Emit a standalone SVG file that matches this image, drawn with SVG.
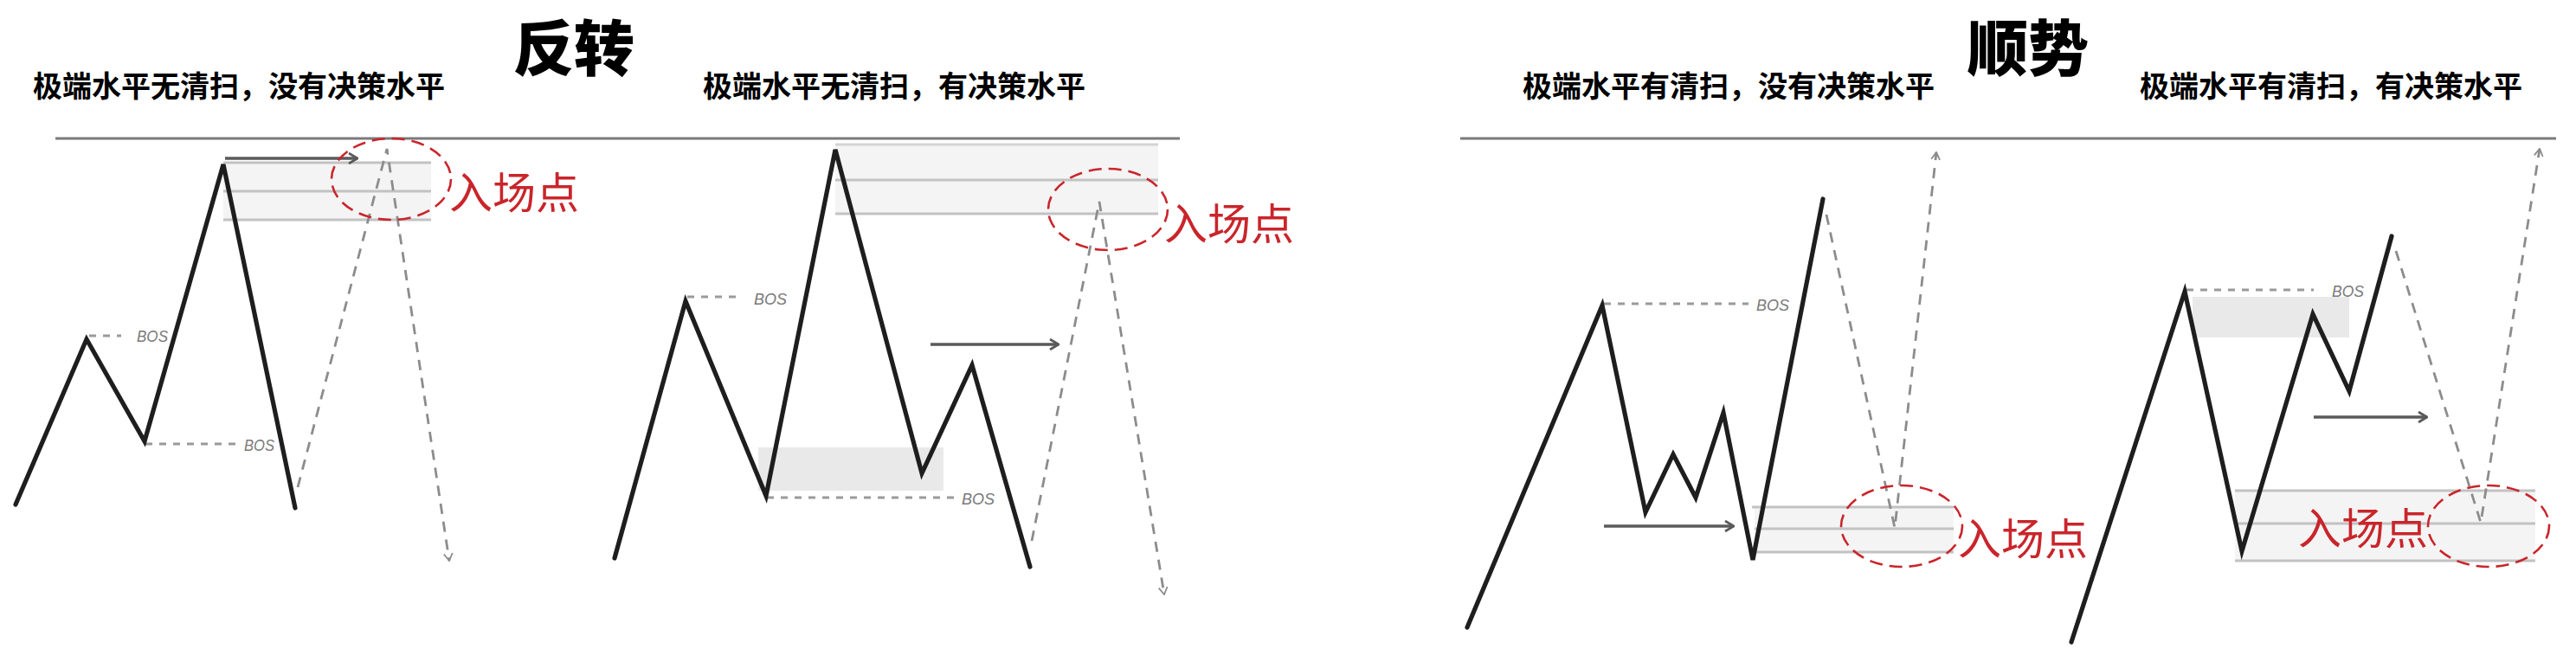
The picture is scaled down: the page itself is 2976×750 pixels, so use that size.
<svg xmlns="http://www.w3.org/2000/svg" width="2976" height="750" viewBox="0 0 2976 750">
<style>
.bg{fill:#ffffff}
.title{font-family:"Noto Sans CJK SC","Noto Sans CJK JP",sans-serif;font-size:70px;font-weight:900;fill:#000}
.sub{font-family:"Noto Sans CJK SC","Noto Sans CJK JP",sans-serif;font-size:34px;font-weight:700;fill:#000}
.entry{font-family:"Noto Sans CJK SC","Noto Sans CJK JP",sans-serif;font-size:50px;font-weight:400;fill:#c9252b}
.bos{font-family:"Liberation Sans",Arial,sans-serif;font-size:19px;fill:#7a7a7a;font-style:italic}
.hline{stroke:#7a7a7a;stroke-width:3;fill:none}
.solid{fill:none;stroke:#1e1e1e;stroke-width:5.2;stroke-linejoin:miter;stroke-linecap:round}
.dash{fill:none;stroke:#8c8c8c;stroke-width:2.8;stroke-dasharray:12 9}
.bosline{fill:none;stroke:#9a9a9a;stroke-width:2.8;stroke-dasharray:8 8}
.zone{fill:#f4f4f4}
.zline{stroke:#c2c2c2;stroke-width:2.8;fill:none}
.zline-l{stroke:#d4d4d4;stroke-width:2.8;fill:none}
.dec{fill:#e9e9e9}
.arrow{fill:none;stroke:#5a5a5a;stroke-width:3.4}
.ring{fill:none;stroke:#c9252b;stroke-width:2.6;stroke-dasharray:15 8}
</style>
<defs>
<marker id="chev" viewBox="0 0 12 14" refX="11" refY="7" markerWidth="12" markerHeight="14" markerUnits="userSpaceOnUse" orient="auto">
<path d="M1,1 L11,7 L1,13" fill="none" stroke="#5a5a5a" stroke-width="2.8"/>
</marker>
<marker id="dchev" viewBox="0 0 12 14" refX="11" refY="7" markerWidth="10" markerHeight="12" markerUnits="userSpaceOnUse" orient="auto">
<path d="M1,1 L11,7 L1,13" fill="none" stroke="#8c8c8c" stroke-width="2.2"/>
</marker>
</defs>
<rect class="bg" x="0" y="0" width="2976" height="750"/>

<g id="titles">
<text class="title" x="593" y="82">反转</text>
<text class="title" x="2273" y="82">顺势</text>
</g>

<g id="subtitles">
<text class="sub" x="38" y="112">极端水平无清扫，没有决策水平</text>
<text class="sub" x="812" y="112">极端水平无清扫，有决策水平</text>
<text class="sub" x="1759" y="112">极端水平有清扫，没有决策水平</text>
<text class="sub" x="2472" y="112">极端水平有清扫，有决策水平</text>
</g>

<g id="rules">
<line class="hline" x1="64" y1="160" x2="1363" y2="160"/>
<line class="hline" x1="1687" y1="160" x2="2953" y2="160"/>
</g>

<!-- Panel 1 -->
<g id="panel1">
<rect class="zone" x="258" y="188" width="240" height="66"/>
<line class="zline" x1="258" y1="188" x2="498" y2="188"/>
<line class="zline" x1="258" y1="221" x2="498" y2="221"/>
<line class="zline" x1="258" y1="254" x2="498" y2="254"/>
<line class="arrow" x1="260" y1="183" x2="413" y2="183" marker-end="url(#chev)"/>
<line class="bosline" x1="103" y1="388" x2="140" y2="388"/>
<text class="bos" x="158" y="395" textLength="36" lengthAdjust="spacingAndGlyphs">BOS</text>
<line class="bosline" x1="168" y1="513" x2="272" y2="513"/>
<text class="bos" x="282" y="521" textLength="35" lengthAdjust="spacingAndGlyphs">BOS</text>
<polyline class="solid" points="18,583 100,392 167,510 258,190 341,587"/>
</g>

<!-- Panel 2 -->
<g id="panel2">
<rect class="zone" x="965" y="167" width="373" height="80"/>
<line class="zline-l" x1="965" y1="167" x2="1338" y2="167"/>
<line class="zline" x1="965" y1="208" x2="1338" y2="208"/>
<line class="zline" x1="965" y1="247" x2="1338" y2="247"/>
<rect class="dec" x="876" y="517" width="214" height="50"/>
<line class="bosline" x1="794" y1="343" x2="855" y2="343"/>
<text class="bos" x="871" y="352" textLength="38" lengthAdjust="spacingAndGlyphs">BOS</text>
<line class="bosline" x1="886" y1="575" x2="1103" y2="575"/>
<text class="bos" x="1111" y="583" textLength="38" lengthAdjust="spacingAndGlyphs">BOS</text>
<line class="arrow" x1="1075" y1="398" x2="1223" y2="398" marker-end="url(#chev)"/>
<polyline class="solid" points="710,645 792,348 885,573 965,173 1065,547 1123,422 1190,655"/>
</g>

<!-- Panel 3 -->
<g id="panel3">
<rect class="zone" x="2027" y="586" width="230" height="52"/>
<line class="zline" x1="2024" y1="586" x2="2257" y2="586"/>
<line class="zline" x1="2027" y1="611" x2="2257" y2="611"/>
<line class="zline" x1="2027" y1="638" x2="2257" y2="638"/>
<line class="bosline" x1="1853" y1="351" x2="2020" y2="351"/>
<text class="bos" x="2029" y="359" textLength="38" lengthAdjust="spacingAndGlyphs">BOS</text>
<line class="arrow" x1="1853" y1="608" x2="2003" y2="608" marker-end="url(#chev)"/>
<polyline class="solid" points="1695,725 1851,353 1901,592 1933,525 1959,575 1991,477 2025,647 2106,230"/>
</g>

<!-- Panel 4 -->
<g id="panel4">
<rect class="zone" x="2582" y="567" width="347" height="81"/>
<line class="zline" x1="2582" y1="567" x2="2929" y2="567"/>
<line class="zline" x1="2582" y1="605" x2="2929" y2="605"/>
<line class="zline" x1="2582" y1="648" x2="2929" y2="648"/>
<rect class="dec" x="2533" y="343" width="181" height="47"/>
<line class="bosline" x1="2526" y1="335" x2="2673" y2="335"/>
<text class="bos" x="2694" y="343" textLength="37" lengthAdjust="spacingAndGlyphs">BOS</text>
<line class="arrow" x1="2673" y1="482" x2="2804" y2="482" marker-end="url(#chev)"/>
<polyline class="solid" points="2393,742 2524,337 2590,637 2672,363 2714,452 2763,273"/>
</g>

<g id="connectors">
<polyline class="dash" points="344,563 447,172 519,648" marker-end="url(#dchev)"/>
<polyline class="dash" points="1192,625 1270,233 1345,687" marker-end="url(#dchev)"/>
<polyline class="dash" points="2110,248 2189,610 2237,176" marker-end="url(#dchev)"/>
<polyline class="dash" points="2768,290 2866,604 2934,172" marker-end="url(#dchev)"/>
</g>

<g id="entries">
<ellipse class="ring" cx="452" cy="207" rx="69" ry="47"/>
<text class="entry" x="519" y="241">入场点</text>
<ellipse class="ring" cx="1280" cy="242" rx="69" ry="47"/>
<text class="entry" x="1345" y="277">入场点</text>
<ellipse class="ring" cx="2197" cy="608" rx="70" ry="47"/>
<text class="entry" x="2262" y="641">入场点</text>
<ellipse class="ring" cx="2875" cy="608" rx="70" ry="47"/>
<text class="entry" x="2655" y="629">入场点</text>
</g>
</svg>
